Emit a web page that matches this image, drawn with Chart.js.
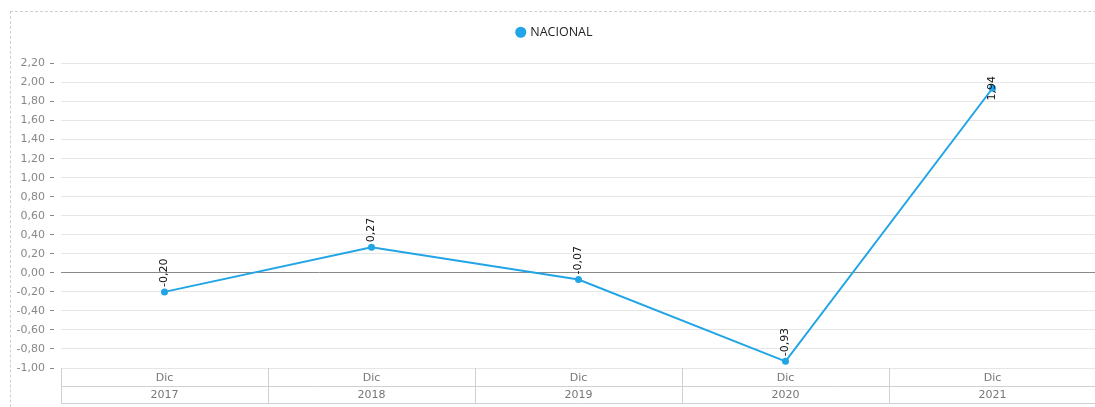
<!DOCTYPE html>
<html>
<head>
<meta charset="utf-8">
<script src="https://cdn.jsdelivr.net/npm/chart.js@4"></script>
<style>
    html, body { margin: 0; padding: 0; background: #fff; overflow: hidden; }
    #frame {
        position: absolute; left: 10px; top: 11px; width: 1200px; height: 500px;
        border-top: 1px dashed #cfcfcf; border-left: 1px dashed #cfcfcf;
    }
    #wrap { position: absolute; left: 0; top: 0; width: 1110px; height: 407px; }
</style>
</head>
<body>
<div id="frame"></div>
<div id="wrap"><canvas id="chart"></canvas></div>
<script>
// data
const months = ["Dic", "Dic", "Dic", "Dic", "Dic"];
const years = ["2017", "2018", "2019", "2020", "2021"];
const nacional = [-0.20, 0.27, -0.07, -0.93, 1.94];

const lineColor = "#22a5e6";

function fmt(v) {
    return v.toFixed(2).replace(".", ",");
}

// rotated value labels above each point
const valueLabels = {
    id: "valueLabels",
    afterDatasetsDraw(chart) {
        const ctx = chart.ctx;
        const meta = chart.getDatasetMeta(0);
        const area = chart.chartArea;
        ctx.save();
        ctx.font = "11px 'DejaVu Sans'";
        ctx.fillStyle = "#111";
        ctx.textAlign = "center";
        ctx.textBaseline = "middle";
        meta.data.forEach((pt, i) => {
            const txt = fmt(nacional[i]);
            const w = ctx.measureText(txt).width;
            let cy = pt.y - 5 - w / 2;
            // too close to the top: centre on the point
            if (cy - w / 2 < area.top + 15) cy = pt.y;
            ctx.save();
            ctx.translate(pt.x, cy);
            ctx.rotate(-Math.PI / 2);
            ctx.fillText(txt, 0, 0);
            ctx.restore();
        });
        ctx.restore();
    }
};

// two-row category table under the plot
const xTable = {
    id: "xTable",
    afterDraw(chart) {
        const ctx = chart.ctx;
        const x = chart.scales.x;
        const area = chart.chartArea;
        const step = x.getPixelForValue(1) - x.getPixelForValue(0);
        const top = area.bottom, mid = top + 18, bot = top + 35;
        ctx.save();
        ctx.strokeStyle = "#d0d0d0";
        ctx.lineWidth = 1;
        ctx.beginPath();
        [mid, bot].forEach((y) => {
            ctx.moveTo(area.left, y + 0.5);
            ctx.lineTo(area.right, y + 0.5);
        });
        for (let i = 0; i <= years.length; i++) {
            const px = Math.round(x.getPixelForValue(0) - step / 2 + i * step) + 0.5;
            ctx.moveTo(px, top);
            ctx.lineTo(px, bot);
        }
        ctx.stroke();
        ctx.font = "11px 'DejaVu Sans'";
        ctx.fillStyle = "#777";
        ctx.textAlign = "center";
        ctx.textBaseline = "middle";
        years.forEach((yr, i) => {
            const px = x.getPixelForValue(i);
            ctx.fillText(months[i], px, top + 10);
            ctx.fillText(yr, px, mid + 9);
        });
        ctx.restore();
    }
};

new Chart(document.getElementById("chart"), {
    type: "line",
    data: {
        labels: years,
        datasets: [{
            label: "NACIONAL",
            data: nacional,
            xAxisID: "x",
            yAxisID: "y",
            borderColor: lineColor,
            backgroundColor: lineColor,
            borderWidth: 2,
            pointRadius: 2.5,
            pointHoverRadius: 3,
            tension: 0
        }]
    },
    options: {
        responsive: true,
        maintainAspectRatio: false,
        animation: false,
        layout: { autoPadding: false, padding: { top: 16, bottom: 39, left: 0, right: 0 } },
        plugins: {
            legend: {
                position: "top",
                labels: {
                    usePointStyle: true,
                    pointStyle: "circle",
                    boxWidth: 6.5,
                    boxHeight: 6.5,
                    color: "#222",
                    padding: 10,
                    font: { family: "'Open Sans'", size: 12.5 }
                }
            },
            tooltip: { enabled: false }
        },
        scales: {
            x: {
                display: false,
                offset: true
            },
            y: {
                min: -1,
                max: 2.2,
                afterFit(scale) { scale.width = 61; },
                ticks: {
                    stepSize: 0.2,
                    color: "#888",
                    padding: 5,
                    font: { family: "'DejaVu Sans'", size: 11 },
                    callback: (v) => fmt(v)
                },
                border: { display: false },
                grid: {
                    color: (c) => (Math.abs(c.tick.value) < 1e-9 ? "#8a8a8a" : "#e6e6e6"),
                    tickColor: "#888",
                    tickLength: 11,
                    tickBorderDash: [4, 7]
                }
            },
            // empty top band between legend and plot
            gap: {
                type: "category",
                position: "top",
                labels: years,
                afterFit(scale) { scale.height = 15; },
                ticks: { display: false },
                grid: { display: false },
                border: { display: false }
            },
            // empty right band so the plot stops short of the canvas edge
            side: {
                type: "linear",
                position: "right",
                afterFit(scale) { scale.width = 14; },
                ticks: { display: false },
                grid: { display: false },
                border: { display: false }
            }
        }
    },
    plugins: [valueLabels, xTable]
});
</script>
</body>
</html>
